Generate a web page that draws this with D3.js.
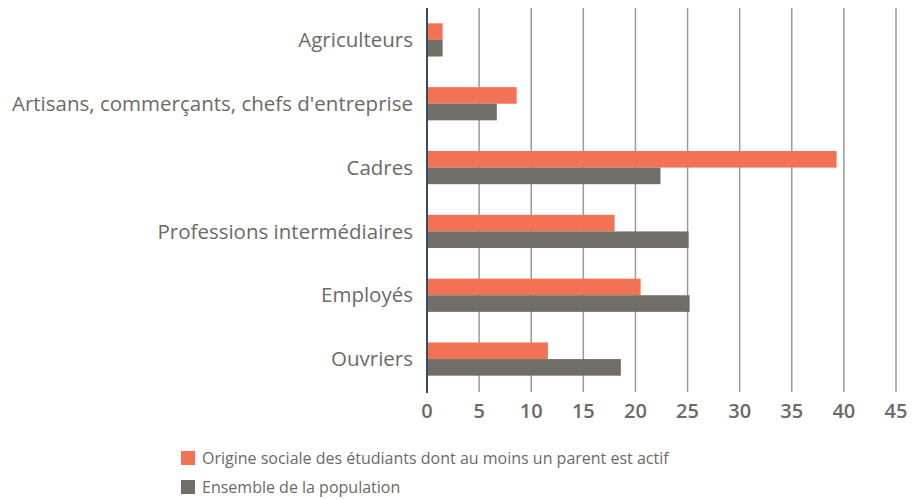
<!DOCTYPE html>
<html>
<head>
<meta charset="utf-8">
<script src="https://cdn.jsdelivr.net/npm/d3@7"></script>
<style>
  body { margin: 0; background: #fff; }
  svg text { font-family: "Open Sans", "Noto Sans", sans-serif; fill: #6d6a66; }
</style>
</head>
<body>
<script>
var categories = ["Agriculteurs", "Artisans, commerçants, chefs d'entreprise", "Cadres",
  "Professions intermédiaires", "Employés", "Ouvriers"];
var seriesNames = ["Origine sociale des étudiants dont au moins un parent est actif",
  "Ensemble de la population"];
var etudiants = [1.5, 8.6, 39.3, 18.0, 20.5, 11.6];
var population = [1.5, 6.7, 22.4, 25.1, 25.2, 18.6];
var xTicks = [0, 5, 10, 15, 20, 25, 30, 35, 40, 45];
var colors = ["#f37155", "#716d67"];

var W = 913, H = 499;
var m = { left: 427, right: 17, top: 8, bottom: 108 };

var svg = d3.select("body").append("svg")
  .attr("width", W).attr("height", H);

var x = d3.scaleLinear().domain([0, 45]).range([m.left, W - m.right]);
var y = d3.scaleBand().domain(categories).range([m.top, H - m.bottom]).paddingInner(0.48).paddingOuter(0.24);
var sub = d3.scaleBand().domain([0, 1]).range([0, y.bandwidth()]);

// grid lines
svg.append("g").selectAll("line").data(xTicks.slice(1)).join("line")
  .attr("x1", function (d) { return x(d); })
  .attr("x2", function (d) { return x(d); })
  .attr("y1", m.top).attr("y2", H - m.bottom + 1)
  .attr("stroke", "#9a9a9a").attr("stroke-width", 1.5);

var rows = categories.map(function (c, i) {
  return { cat: c, vals: [etudiants[i], population[i]] };
});

var g = svg.append("g").selectAll("g").data(rows).join("g")
  .attr("transform", function (d) { return "translate(0," + y(d.cat) + ")"; });

g.selectAll("rect").data(function (d) { return d.vals; }).join("rect")
  .attr("x", x(0))
  .attr("y", function (d, i) { return sub(i); })
  .attr("width", function (d) { return x(d) - x(0); })
  .attr("height", sub.bandwidth())
  .attr("fill", function (d, i) { return colors[i]; });

// category labels
svg.append("g").selectAll("text").data(categories).join("text")
  .attr("x", m.left - 14)
  .attr("y", function (d) { return y(d) + y.bandwidth() / 2; })
  .attr("dy", "0.35em")
  .attr("text-anchor", "end")
  .style("font-size", "20.5px")
  .text(function (d) { return d; });

// axis line at 0
svg.append("line")
  .attr("x1", x(0)).attr("x2", x(0))
  .attr("y1", m.top).attr("y2", H - m.bottom + 2)
  .attr("stroke", "#3b4a63").attr("stroke-width", 2);

// tick labels
svg.append("g").selectAll("text").data(xTicks).join("text")
  .attr("x", function (d) { return x(d); })
  .attr("y", 418)
  .attr("text-anchor", "middle")
  .style("font-size", "20px")
  .style("font-weight", "600")
  .text(function (d) { return d; });

// legend
var leg = svg.append("g").selectAll("g").data(seriesNames).join("g")
  .attr("transform", function (d, i) { return "translate(181," + (451 + i * 29) + ")"; });
leg.append("rect").attr("width", 14).attr("height", 14)
  .attr("fill", function (d, i) { return colors[i]; });
leg.append("text").attr("x", 21).attr("y", 7).attr("dy", "0.35em")
  .style("font-size", "16px")
  .text(function (d) { return d; });
</script>
</body>
</html>
